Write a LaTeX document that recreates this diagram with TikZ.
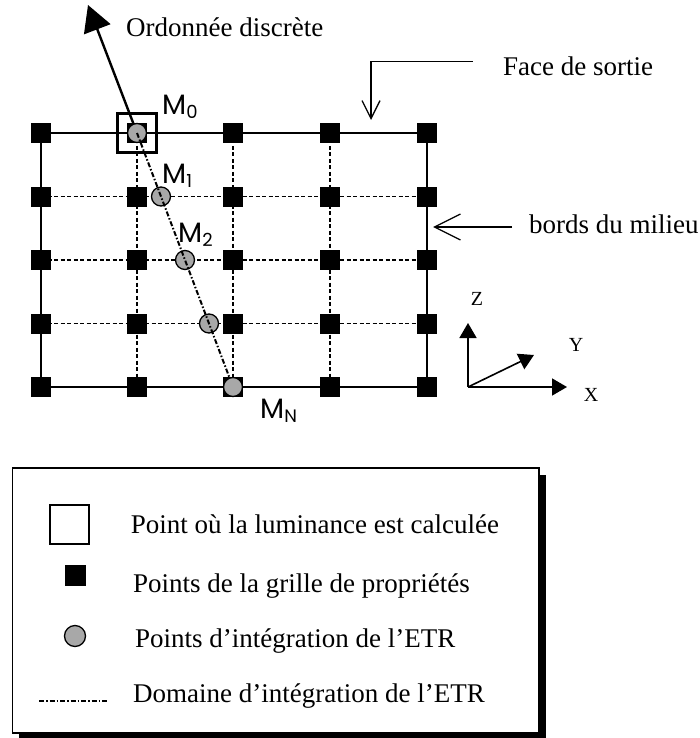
\documentclass[tikz,border=0pt]{standalone}
\usepackage{fontspec}
\setmainfont{Liberation Serif}
\newfontfamily\mfont{Poppins}
\usetikzlibrary{arrows.meta,calc}
\definecolor{ptgray}{RGB}{168,168,168}
\newcommand{\msub}[1]{\raisebox{-4pt}{\fontsize{18}{18}\selectfont #1}}
\begin{document}
\begin{tikzpicture}[x=1pt,y=-1pt,
  gsq/.style={fill=black,minimum size=20pt,inner sep=0pt,draw=none},
  gcirc/.style={circle,fill=ptgray,draw=black,line width=1.3pt,minimum size=19pt,inner sep=0pt},
  border/.style={line width=2pt},
  innerline/.style={line width=1.4pt,dash pattern=on 4pt off 2.5pt},
  integ/.style={line width=2pt,dash pattern=on 5pt off 2pt on 1.5pt off 2pt},
  lab/.style={font=\fontsize{27}{30}\selectfont,anchor=base west,inner sep=0pt},
  axlab/.style={font=\fontsize{20}{22}\selectfont,inner sep=0pt},
  mlab/.style={font=\mfont\fontsize{28}{30}\selectfont,anchor=base west,inner sep=0pt},
  openarrow/.style={line width=1.3pt},
  axarrow/.style={line width=1.6pt,-{Triangle[length=15pt,width=17pt]}}]
\useasboundingbox (0,0) rectangle (700,738);

% grid coordinates
\foreach \x [count=\i] in {41,137,233,330,427}
  \foreach \y [count=\j] in {133,196.5,260,323.5,387}
    \coordinate (p\i\j) at (\x,\y);

% grid lines
\foreach \j in {2,3,4} \draw[innerline] (p1\j) -- (p5\j);
\foreach \i in {2,3,4} \draw[innerline] (p\i1) -- (p\i5);
\draw[border] (p11) rectangle (p55);

% grid squares
\foreach \i in {1,...,5}
  \foreach \j in {1,...,5}
    \node[gsq] (g\i\j) at (p\i\j) {};

% integration points
\node[gcirc] (c0) at (p21) {};
\node[gcirc] (c1) at ($(p21)!0.25!(p35)$) {};
\node[gcirc] (c2) at ($(p21)!0.5!(p35)$) {};
\node[gcirc] (c3) at ($(p21)!0.75!(p35)$) {};
\draw[integ] (c0.center) -- (p35);
\node[gcirc] (cN) at (p35) {};

% M0 box
\node[draw,line width=2.2pt,minimum size=39pt,inner sep=0pt] (m0box) at (p21) {};

% discrete ordinate arrow
\coordinate (atip) at (88,5);
\draw[line width=2.4pt,-{Triangle[length=26pt,width=28pt]}] (c0) -- (atip);
\node[lab] (ordo) at (126,37) {Ordonnée discrète};

% labels M
\node[mlab] (lm0) at (162,115) {M\msub{0}};
\node[mlab] (lm1) at (162,183) {M\msub{1}};
\node[mlab] (lm2) at (178,242) {M\msub{2}};
\node[mlab] (lmN) at (260,418) {M\msub{N}};

% Face de sortie
\node[lab] (fds) at (503,76) {Face de sortie};
\coordinate (fdsA) at (472.7,61.7);
\coordinate (fdsT) at (371,120);
\draw[openarrow,-{Straight Barb[length=18pt,width=18pt]}] (fdsA) -| (fdsT);

% bords du milieu
\node[lab] (bdm) at (529,233) {bords du milieu};
\coordinate (bdmA) at (512,227);
\coordinate (bdmT) at (433,227);
\draw[openarrow,-{Straight Barb[length=26pt,width=26pt]}] (bdmA) -- (bdmT);

% axes
\coordinate (O) at (468,387);
\coordinate (Zt) at (468,323);
\coordinate (Xt) at (567,387);
\coordinate (Yt) at (534,355);
\draw[axarrow] (O) -- (Zt);
\draw[axarrow] (O) -- (Xt);
\draw[axarrow] (O) -- (Yt);
\node[axlab] (lz) at (477,299) {Z};
\node[axlab] (ly) at (576,345) {Y};
\node[axlab] (lx) at (591,395) {X};

% legend
\fill[black] (19,475) rectangle (546,742);
\filldraw[fill=white,draw=black,line width=1.2pt] (12.5,468) rectangle (539,733);
\node[draw,line width=1.6pt,minimum size=39pt,inner sep=0pt] (k1) at (69.5,524.5) {};
\node[gsq,minimum size=21pt] (k2) at (75,575.5) {};
\node[gcirc,minimum size=21pt] (k3) at (75,636) {};
\coordinate (k4a) at (39,701);
\coordinate (k4b) at (108,701);
\draw[integ] (k4a) -- (k4b);
\node[lab] (t1) at (130.7,533) {Point où la luminance est calculée};
\node[lab] (t2) at (133,592) {Points de la grille de propriétés};
\node[lab] (t3) at (135,647) {Points d’intégration de l’ETR};
\node[lab] (t4) at (133,702) {Domaine d’intégration de l’ETR};
\end{tikzpicture}
\end{document}
